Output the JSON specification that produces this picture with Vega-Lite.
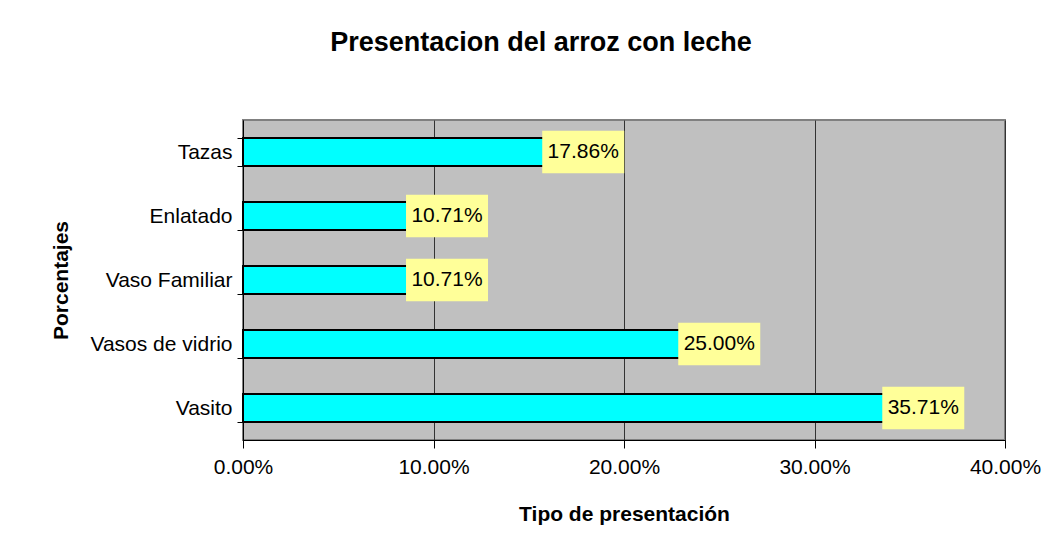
{
  "$schema": "https://vega.github.io/schema/vega-lite/v6.json",
  "width": 762,
  "height": 320,
  "autosize": {"type": "none"},
  "padding": {"left": 243, "top": 120, "right": 54, "bottom": 106},
  "background": "white",
  "title": {
    "text": "Presentacion del arroz con leche",
    "font": "Liberation Sans",
    "fontSize": 27,
    "fontWeight": "bold",
    "color": "black",
    "anchor": "middle",
    "dx": -83,
    "offset": 52
  },
  "data": {
    "values": [
      {"tipo": "Tazas", "pct": 17.86, "label": "17.86%"},
      {"tipo": "Enlatado", "pct": 10.71, "label": "10.71%"},
      {"tipo": "Vaso Familiar", "pct": 10.71, "label": "10.71%"},
      {"tipo": "Vasos de vidrio", "pct": 25.0, "label": "25.00%"},
      {"tipo": "Vasito", "pct": 35.71, "label": "35.71%"}
    ]
  },
  "encoding": {
    "y": {
      "field": "tipo",
      "type": "nominal",
      "sort": null,
      "scale": {"paddingInner": 0.56, "paddingOuter": 0.28},
      "axis": {
        "title": "Porcentajes",
        "titleFont": "Liberation Sans",
        "titleFontSize": 21,
        "titleFontWeight": "bold",
        "titleColor": "black",
        "titlePadding": 18,
        "labelFont": "Liberation Sans",
        "labelFontSize": 21,
        "labelColor": "black",
        "labelPadding": 5,
        "tickColor": "black",
        "tickSize": 6,
        "domainColor": "black",
        "grid": false,
        "tickBand": "extent"
      }
    }
  },
  "layer": [
    {
      "mark": {"type": "bar", "color": "#00FFFF", "stroke": "black", "strokeWidth": 2},
      "encoding": {
        "x": {
          "field": "pct",
          "type": "quantitative",
          "scale": {"domain": [0, 40]},
          "axis": {
            "values": [0, 10, 20, 30, 40],
            "labelExpr": "format(datum.value, '.2f') + '%'",
            "title": "Tipo de presentación",
            "titleFont": "Liberation Sans",
            "titleFontSize": 21,
            "titleFontWeight": "bold",
            "titleColor": "black",
            "titlePadding": 26,
            "labelFont": "Liberation Sans",
            "labelFontSize": 21,
            "labelColor": "black",
            "labelPadding": 8,
            "labelFlush": false,
            "tickColor": "black",
            "tickSize": 8,
            "domainColor": "black",
            "grid": true,
            "gridColor": "#333333",
            "gridOpacity": 1
          }
        }
      }
    },
    {
      "mark": {"type": "point", "shape": "M-1,-0.52H1V0.52H-1Z", "filled": true, "color": "#FFFF99", "opacity": 1, "size": 6724},
      "encoding": {
        "x": {"field": "pct", "type": "quantitative"}
      }
    },
    {
      "mark": {"type": "text", "font": "Liberation Sans", "fontSize": 21, "color": "black", "align": "center", "baseline": "middle"},
      "encoding": {
        "x": {"field": "pct", "type": "quantitative"},
        "text": {"field": "label"}
      }
    }
  ],
  "config": {
    "view": {"fill": "#C0C0C0", "stroke": "#808080", "strokeWidth": 2}
  }
}
